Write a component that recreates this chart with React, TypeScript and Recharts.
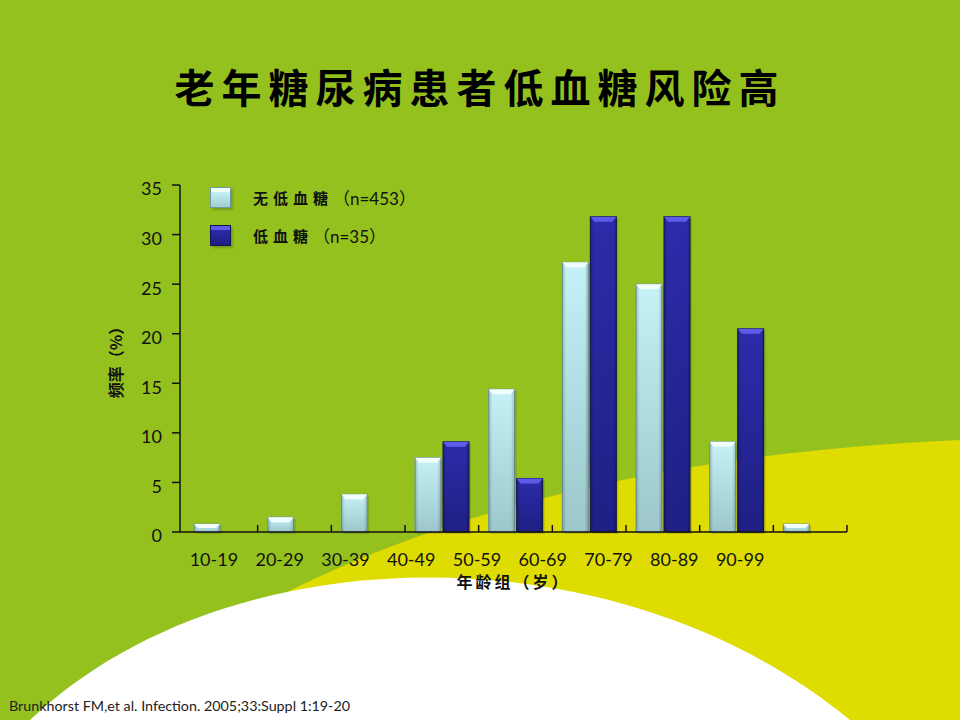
import { Bar, BarChart, Label, Legend, XAxis, YAxis } from "recharts";

const ageGroups = ["10-19", "20-29", "30-39", "40-49", "50-59", "60-69", "70-79", "80-89", "90-99"];
const noHypoPercent = [0.8, 1.5, 3.8, 7.5, 14.4, 27.2, 25.0, 9.1, 0.8];
const hypoPercent = [0, 0, 0, 9.1, 5.4, 31.8, 31.8, 20.5, 0];
const percentTicks = [0, 5, 10, 15, 20, 25, 30, 35];
const seriesNames = ["无低血糖（n=453）", "低血糖（n=35）"];

const chartData = ageGroups.map((age, i) => ({
    age,
    noHypo: noHypoPercent[i],
    hypo: hypoPercent[i],
}));

const CJK = '"Noto Sans CJK SC", sans-serif';
const LATIN = 'Lato, "Noto Sans CJK SC", sans-serif';
const INK = "#111";
const LIGHT_FILL = "#b4e2e6";
const DARK_FILL = "#24249a";

const TONES = {
    light: { body: "url(#lightBody)", stroke: "#6f9a9e", cap: "#f2fdff" },
    dark: { body: "url(#darkBody)", stroke: "#14144e", cap: "#5c5ce8" },
};

type Tone = keyof typeof TONES;

function GlassBar(props: any) {
    const { x = 0, y = 0, width = 0, height = 0, tone } = props;
    if (!height || height <= 0) return <g />;
    const t = TONES[tone as Tone];
    const cap = Math.min(5, height / 2);
    const inset = Math.min(4, width / 4);
    return (
        <g>
            <rect x={x + 2} y={y + 2} width={width} height={height} fill="rgba(0,0,0,0.13)" />
            <rect x={x} y={y} width={width} height={height} fill={t.body} stroke={t.stroke} strokeWidth={1} />
            <rect x={x} y={y} width={width} height={height} fill="url(#barEdges)" />
            <polygon
                points={`${x},${y} ${x + width},${y} ${x + width - inset},${y + cap} ${x + inset},${y + cap}`}
                fill={t.cap}
            />
        </g>
    );
}

// tick marks sit on the category boundaries, not the band centres
function BoundaryTick(props: any) {
    const { x, y, payload } = props;
    const edge = x + (payload?.offset ?? 0);
    return <line x1={edge} x2={edge} y1={y - 7} y2={y} stroke={INK} strokeWidth={1.5} />;
}

const markerBg: Record<Tone, string> = {
    light: "linear-gradient(#f2fdff 0 22%, #c4f0f5 22%, #a2ced2)",
    dark: "linear-gradient(#5c5ce8 0 22%, #2a2aa8 22%, #1e1e80)",
};

function LegendRows({ payload }: any) {
    return (
        <div>
            {(payload ?? []).map((entry: any) => {
                const name = String(entry.value);
                const cut = name.indexOf("（");
                const tone: Tone = entry.color === DARK_FILL ? "dark" : "light";
                return (
                    <div
                        key={name}
                        style={{ display: "flex", alignItems: "center", height: 20, marginBottom: 18 }}
                    >
                        <div
                            style={{
                                width: 19,
                                height: 19,
                                background: markerBg[tone],
                                border: `1px solid ${TONES[tone].stroke}`,
                                boxShadow: "2px 2px 2px rgba(0,0,0,0.2)",
                            }}
                        />
                        <span
                            style={{
                                marginLeft: 22,
                                fontFamily: CJK,
                                fontWeight: 700,
                                fontSize: 15,
                                letterSpacing: 5,
                                color: INK,
                            }}
                        >
                            {name.slice(0, cut)}
                        </span>
                        <span style={{ fontFamily: LATIN, fontSize: 17, color: INK }}>
                            {name.slice(cut)}
                        </span>
                    </div>
                );
            })}
        </div>
    );
}

export default function App() {
    return (
        <div
            style={{
                position: "absolute",
                left: 0,
                top: 0,
                width: 960,
                height: 720,
                overflow: "hidden",
                background: "#95c11f",
            }}
        >
            <svg width={960} height={720} style={{ position: "absolute", left: 0, top: 0 }}>
                <path d="M 200,640 C 380,530 620,455 960,440 L 960,720 L 200,720 Z" fill="#dedc00" />
                <path d="M 30,720 C 230,530 620,530 850,720 Z" fill="#ffffff" />
            </svg>

            <div
                style={{
                    position: "absolute",
                    left: 0,
                    top: 62,
                    width: 960,
                    textAlign: "center",
                    fontFamily: CJK,
                    fontWeight: 700,
                    fontSize: 40,
                    lineHeight: "48px",
                    letterSpacing: 7,
                    color: "#000",
                }}
            >
                老年糖尿病患者低血糖风险高
            </div>

            <div style={{ position: "absolute", left: 0, top: 0 }}>
                <BarChart
                    width={960}
                    height={720}
                    data={chartData}
                    margin={{ top: 185, right: 113, bottom: 147, left: 110 }}
                    barSize={26}
                    barGap={2}
                >
                    <defs>
                        <linearGradient id="lightBody" x1="0" y1="0" x2="0" y2="1">
                            <stop offset="0%" stopColor="#c6f1f6" />
                            <stop offset="50%" stopColor="#b0dde2" />
                            <stop offset="100%" stopColor="#9cc6ca" />
                        </linearGradient>
                        <linearGradient id="darkBody" x1="0" y1="0" x2="0" y2="1">
                            <stop offset="0%" stopColor="#2c2cab" />
                            <stop offset="100%" stopColor="#1f1f84" />
                        </linearGradient>
                        <linearGradient id="barEdges" x1="0" y1="0" x2="1" y2="0">
                            <stop offset="0%" stopColor="#000" stopOpacity={0.2} />
                            <stop offset="14%" stopColor="#000" stopOpacity={0} />
                            <stop offset="86%" stopColor="#000" stopOpacity={0} />
                            <stop offset="100%" stopColor="#000" stopOpacity={0.2} />
                        </linearGradient>
                    </defs>
                    <XAxis
                        xAxisId="bars"
                        dataKey="age"
                        height={1}
                        padding={{ left: 4, right: 0 }}
                        interval={0}
                        tickSize={0}
                        tickMargin={0}
                        tickLine={false}
                        axisLine={{ stroke: INK, strokeWidth: 1.5 }}
                        tick={(p: any) => <BoundaryTick {...p} />}
                    />
                    <XAxis
                        xAxisId="labels"
                        dataKey="age"
                        height={40}
                        padding={{ left: 1, right: 74 }}
                        interval={0}
                        axisLine={false}
                        tickLine={false}
                        tickSize={0}
                        tickMargin={20}
                        tick={{ fontSize: 18, fill: INK, fontFamily: LATIN }}
                    >
                        <Label
                            value="年龄组（岁）"
                            position="bottom"
                            offset={4}
                            fontFamily={CJK}
                            fontWeight={700}
                            fontSize={16}
                            fill={INK}
                            letterSpacing={3}
                        />
                    </XAxis>
                    <YAxis
                        width={70}
                        domain={[0, 35]}
                        ticks={percentTicks}
                        interval={0}
                        tickSize={8}
                        tickMargin={10}
                        axisLine={{ stroke: INK, strokeWidth: 1.5 }}
                        tickLine={{ stroke: INK, strokeWidth: 1.5 }}
                        tick={{ fontSize: 18, fill: INK, fontFamily: LATIN, dy: 4 }}
                    >
                        <Label
                            value="频率（%）"
                            angle={-90}
                            position="insideLeft"
                            offset={6}
                            style={{ textAnchor: "middle" }}
                            fontFamily={CJK}
                            fontWeight={700}
                            fontSize={16}
                            fill={INK}
                        />
                    </YAxis>
                    <Legend
                        layout="vertical"
                        align="center"
                        verticalAlign="middle"
                        itemSorter={(item: any) => seriesNames.indexOf(String(item.value))}
                        wrapperStyle={{ left: 210, top: 187, width: 280, height: "auto" }}
                        content={(p: any) => <LegendRows {...p} />}
                    />
                    <Bar
                        xAxisId="bars"
                        dataKey="noHypo"
                        name={seriesNames[0]}
                        fill={LIGHT_FILL}
                        isAnimationActive={false}
                        shape={(p: any) => <GlassBar {...p} tone="light" />}
                    />
                    <Bar
                        xAxisId="bars"
                        dataKey="hypo"
                        name={seriesNames[1]}
                        fill={DARK_FILL}
                        isAnimationActive={false}
                        shape={(p: any) => <GlassBar {...p} tone="dark" />}
                    />
                </BarChart>
            </div>

            <div
                style={{
                    position: "absolute",
                    left: 9,
                    top: 697,
                    fontFamily: LATIN,
                    fontSize: 14.3,
                    color: "#222",
                    whiteSpace: "nowrap",
                }}
            >
                Brunkhorst FM,et al. Infection. 2005;33:Suppl 1:19-20
            </div>
        </div>
    );
}
